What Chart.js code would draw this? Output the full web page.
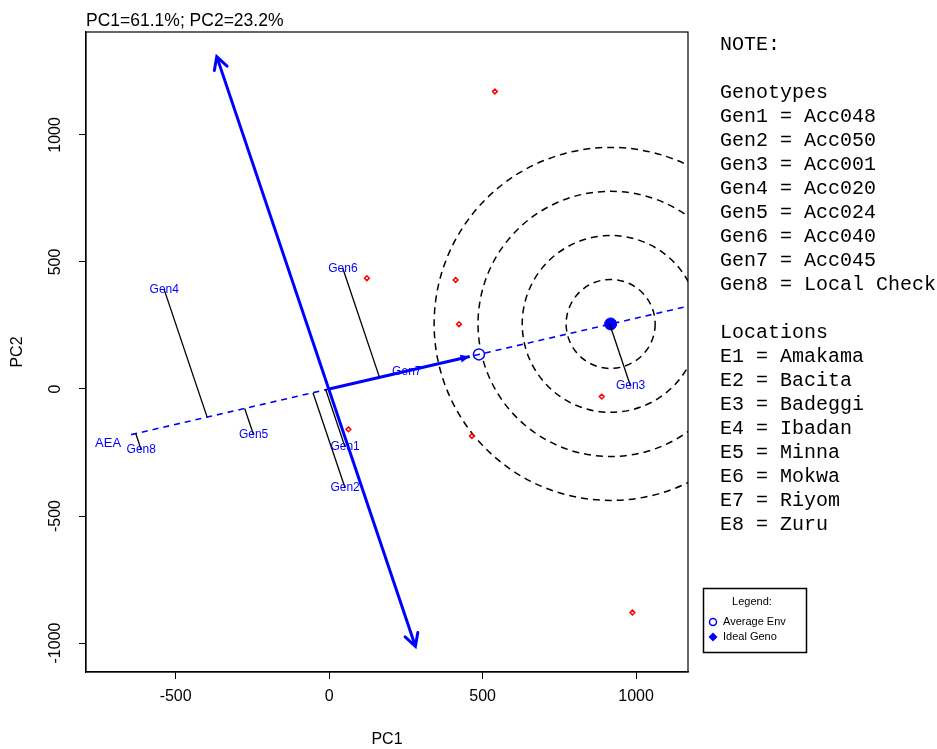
<!DOCTYPE html>
<html><head><meta charset="utf-8">
<script src="https://cdn.jsdelivr.net/npm/chart.js@4.4.1/dist/chart.umd.min.js"></script>
<style>html,body{margin:0;padding:0;background:#fff;}canvas{display:block;}</style>
</head><body>
<canvas id="c" width="937" height="749"></canvas>
<script>
// ---- data ----
const genotypes = ['Gen1','Gen2','Gen3','Gen4','Gen5','Gen6','Gen7','Gen8'];
const genPC1 = [52, 52, 982, -537, -246, 45, 253, -612];
const genPC2 = [-229, -390, 11, 390, -181, 473, 67, -240];
const environments = ['E1','E2','E3','E4','E5','E6','E7','E8'];
const envPC1 = [540, 123, 412, 423, 888, 465, 63, 988];
const envPC2 = [1171, 436, 429, 255, -30, -185, -159, -880];
const averageEnv = [488, 136];
const idealGeno = [917, 256];
const aecTop = [-366, 1308];
const aecBottom = [281, -1013];
const aeaRange = [-645, 1260];
const aeaArrowEnd = 458;
const aeaLabel = [-720, -213];
const circleRadii = [145, 288, 432, 575];
const xTicks = [-500, 0, 500, 1000];
const yTicks = [-1000, -500, 0, 500, 1000];
const xRange = [-792, 1169];
const yRange = [-1114, 1405];
const titleText = 'PC1=61.1%; PC2=23.2%';
const genotypeNames = ['Acc048','Acc050','Acc001','Acc020','Acc024','Acc040','Acc045','Local Check'];
const locationNames = ['Amakama','Bacita','Badeggi','Ibadan','Minna','Mokwa','Riyom','Zuru'];

const BLUE = '#0000FF';
const dx = averageEnv[0], dy = averageEnv[1], n2 = dx*dx + dy*dy;
function onAEA(x){ const t = x/dx; return {x: t*dx, y: t*dy}; }
function proj(x, y){ const t = (x*dx + y*dy)/n2; return {x: t*dx, y: t*dy}; }

const datasets = [];
// projection lines of genotypes onto the AEA
genotypes.forEach((g, i) => {
  datasets.push({type:'line', data:[{x:genPC1[i], y:genPC2[i]}, proj(genPC1[i], genPC2[i])],
    borderColor:'#000', borderWidth:1.3, pointRadius:0, fill:false, tension:0});
});
// AEA dashed line
datasets.push({type:'line', data:[onAEA(aeaRange[0]), onAEA(aeaRange[1])], borderColor:BLUE,
  borderWidth:1.6, borderDash:[6,5], pointRadius:0, fill:false});
// AEA arrow from origin
datasets.push({type:'line', data:[{x:0,y:0}, onAEA(aeaArrowEnd)], borderColor:BLUE,
  borderWidth:3, pointRadius:0, fill:false});
// AEC double arrow
datasets.push({type:'line', data:[{x:aecTop[0],y:aecTop[1]}, {x:aecBottom[0],y:aecBottom[1]}], borderColor:BLUE,
  borderWidth:3, pointRadius:0, fill:false});
// environments (red)
datasets.push({type:'scatter', data: envPC1.map((x,i)=>({x, y:envPC2[i]})), pointStyle:'rectRot',
  pointRadius:2.4, borderColor:'#FF0000', backgroundColor:'rgba(255,255,255,0)', borderWidth:1.5});
// genotypes (labels only)
const genIndex = datasets.length;
datasets.push({type:'scatter', data: genPC1.map((x,i)=>({x, y:genPC2[i]})), pointRadius:0});
// average environment
datasets.push({type:'scatter', data:[{x:averageEnv[0], y:averageEnv[1]}], pointStyle:'circle',
  pointRadius:5.5, borderColor:BLUE, backgroundColor:'#fff', borderWidth:1.5});
// ideal genotype
datasets.push({type:'scatter', data:[{x:idealGeno[0], y:idealGeno[1]}], pointStyle:'circle',
  pointRadius:6, borderColor:BLUE, backgroundColor:BLUE, borderWidth:1});

function arrowHead(ctx, x0, y0, x1, y1, len, ang, filled){
  const a = Math.atan2(y1-y0, x1-x0);
  ctx.beginPath();
  ctx.moveTo(x1 - len*Math.cos(a-ang), y1 - len*Math.sin(a-ang));
  ctx.lineTo(x1, y1);
  ctx.lineTo(x1 - len*Math.cos(a+ang), y1 - len*Math.sin(a+ang));
  if (filled) { ctx.closePath(); ctx.fill(); } else ctx.stroke();
}

const decor = {
  id:'decor',
  beforeDatasetsDraw(chart){
    const {ctx, chartArea:a, scales:{x, y}} = chart;
    ctx.save();
    ctx.beginPath(); ctx.rect(a.left, a.top, a.right-a.left, a.bottom-a.top); ctx.clip();
    const cx = x.getPixelForValue(idealGeno[0]), cy = y.getPixelForValue(idealGeno[1]);
    const pxPerUnit = Math.abs(x.getPixelForValue(1000) - x.getPixelForValue(0))/1000;
    ctx.strokeStyle = '#000'; ctx.lineWidth = 1.5; ctx.setLineDash([7,5]);
    circleRadii.forEach(r => { ctx.beginPath(); ctx.arc(cx, cy, r*pxPerUnit, 0, Math.PI*2); ctx.stroke(); });
    ctx.restore();
  },
  afterDatasetsDraw(chart){
    const {ctx, chartArea:a, scales:{x, y}} = chart;
    ctx.save();
    // arrow heads
    ctx.strokeStyle = BLUE; ctx.fillStyle = BLUE; ctx.lineWidth = 3; ctx.setLineDash([]); ctx.lineCap='round';
    const e = onAEA(aeaArrowEnd);
    arrowHead(ctx, x.getPixelForValue(0), y.getPixelForValue(0), x.getPixelForValue(e.x), y.getPixelForValue(e.y), 10, 0.4, true);
    const tx = x.getPixelForValue(aecTop[0]), ty = y.getPixelForValue(aecTop[1]);
    const bx = x.getPixelForValue(aecBottom[0]), by = y.getPixelForValue(aecBottom[1]);
    arrowHead(ctx, bx, by, tx, ty, 14, 0.5, false);
    arrowHead(ctx, tx, ty, bx, by, 14, 0.5, false);
    // genotype labels
    ctx.fillStyle = BLUE; ctx.font = '12px "Liberation Sans", Arial, sans-serif';
    ctx.textAlign = 'center'; ctx.textBaseline = 'middle';
    chart.getDatasetMeta(genIndex).data.forEach((pt, i) => ctx.fillText(genotypes[i], pt.x, pt.y));
    ctx.font = '13px "Liberation Sans", Arial, sans-serif';
    ctx.fillText('AEA', x.getPixelForValue(aeaLabel[0]), y.getPixelForValue(aeaLabel[1]));
    // plot box
    ctx.strokeStyle = '#000'; ctx.lineWidth = 1.2; ctx.lineCap='butt';
    ctx.strokeRect(a.left, a.top, a.right-a.left, a.bottom-a.top);
    ctx.restore();
  },
  afterDraw(chart){
    const {ctx, chartArea:a, scales:{y}} = chart;
    ctx.save();
    // y tick labels (rotated, R style)
    ctx.fillStyle = '#000'; ctx.font = '16px "Liberation Sans", Arial, sans-serif';
    ctx.textAlign = 'center'; ctx.textBaseline = 'middle';
    y.ticks.forEach(t => {
      const py = y.getPixelForValue(t.value);
      ctx.save(); ctx.translate(56, py); ctx.rotate(-Math.PI/2); ctx.fillText(String(t.value), 0, 0); ctx.restore();
    });
    // title
    ctx.font = '17.5px "Liberation Sans", Arial, sans-serif';
    ctx.textAlign = 'left'; ctx.textBaseline = 'alphabetic';
    ctx.fillText(titleText, a.left, 26);
    // note
    ctx.font = '20px "Liberation Mono", "Courier New", monospace';
    const lines = ['NOTE:', '', 'Genotypes'];
    genotypes.forEach((g,i)=>lines.push(g + ' = ' + genotypeNames[i]));
    lines.push(''); lines.push('Locations');
    environments.forEach((e,i)=>lines.push(e + ' = ' + locationNames[i]));
    lines.forEach((l,i)=>{ if(l) ctx.fillText(l, 720, 50 + i*24); });
    // legend box
    ctx.lineWidth = 1.5; ctx.strokeStyle = '#000';
    ctx.strokeRect(703.5, 588.5, 103, 64);
    ctx.font = '11px "Liberation Sans", Arial, sans-serif';
    ctx.textAlign = 'center'; ctx.textBaseline = 'middle';
    ctx.fillText('Legend:', 752, 602);
    ctx.textAlign = 'left';
    ctx.fillText('Average Env', 723, 622);
    ctx.fillText('Ideal Geno', 723, 637);
    ctx.strokeStyle = BLUE; ctx.lineWidth = 1.5;
    ctx.beginPath(); ctx.arc(713, 622, 3.5, 0, Math.PI*2); ctx.stroke();
    ctx.fillStyle = BLUE;
    ctx.beginPath(); ctx.moveTo(713, 632.5); ctx.lineTo(717.5, 637); ctx.lineTo(713, 641.5); ctx.lineTo(708.5, 637); ctx.closePath(); ctx.fill();
    ctx.restore();
  }
};

new Chart(document.getElementById('c'), {
  type:'scatter',
  data:{datasets},
  options:{
    responsive:false, animation:false, devicePixelRatio:1, events:[],
    layout:{padding:{left:0, top:32, right:249, bottom:0}},
    plugins:{legend:{display:false}, tooltip:{enabled:false}},
    scales:{
      x:{type:'linear', min:xRange[0], max:xRange[1],
        afterBuildTicks: s => { s.ticks = xTicks.map(v=>({value:v})); },
        afterFit: s => { s.height = 77; },
        grid:{display:true, drawOnChartArea:false, drawTicks:true, tickLength:7, color:'#000', lineWidth:1},
        border:{display:true, color:'#000', width:1.2},
        ticks:{color:'#000', font:{family:'"Liberation Sans", Arial, sans-serif', size:16}, padding:8, maxRotation:0, callback: v => String(v)},
        title:{display:true, text:'PC1', color:'#000', font:{family:'"Liberation Sans", Arial, sans-serif', size:16}, padding:{top:0, bottom:0}}
      },
      y:{type:'linear', min:yRange[0], max:yRange[1],
        afterBuildTicks: s => { s.ticks = yTicks.map(v=>({value:v})); },
        afterFit: s => { s.width = 86; },
        grid:{display:true, drawOnChartArea:false, drawTicks:true, tickLength:7, color:'#000', lineWidth:1},
        border:{display:true, color:'#000', width:1.2},
        ticks:{display:false},
        title:{display:true, text:'PC2', color:'#000', font:{family:'"Liberation Sans", Arial, sans-serif', size:16}, padding:{top:8, bottom:0}}
      }
    }
  },
  plugins:[decor]
});
</script>
</body></html>
